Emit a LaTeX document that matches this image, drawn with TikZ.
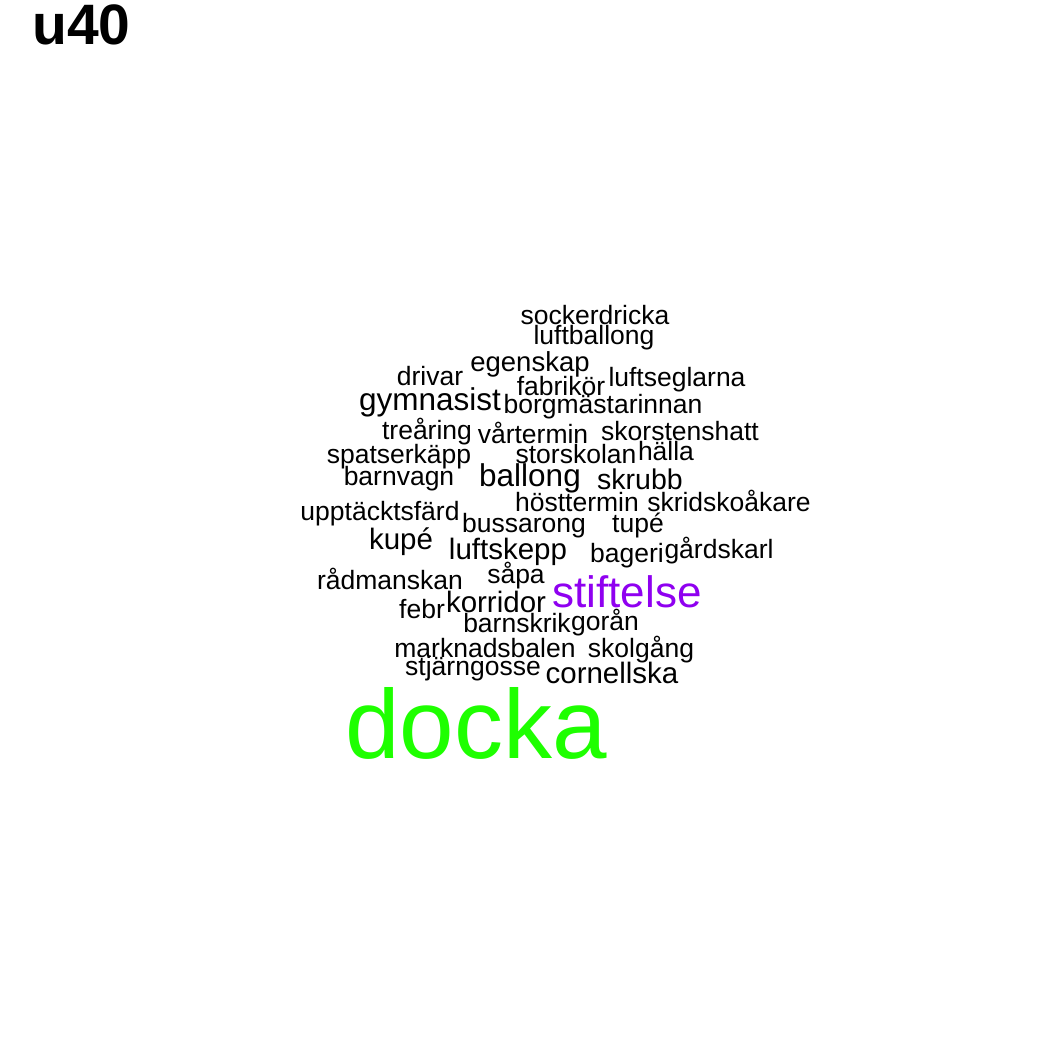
\documentclass[tikz,border=0pt]{standalone}
\usepackage{fontspec}
\setmainfont{Liberation Sans}
\usepackage{xcolor}
\definecolor{cloudgreen}{RGB}{30,255,0}
\definecolor{cloudpurple}{RGB}{143,0,240}

\begin{document}
\begin{tikzpicture}[x=1pt, y=-1pt,
    word/.style = {anchor=base, inner sep=0pt, font=\fontsize{#1}{#1}\selectfont},
    word/.default = 26.5]
    \useasboundingbox (0,0) rectangle (1050,1050);

    \node[anchor=base west, inner sep=0pt, font=\fontsize{57}{57}\selectfont\bfseries] (title) at (32,44) {u40};

    \node[word] (sockerdricka) at (595,324) {sockerdricka};
    \node[word] (luftballong) at (594,344) {luftballong};
    \node[word=27.5] (egenskap) at (530,371) {egenskap};
    \node[word] (drivar) at (430,385) {drivar};
    \node[word] (fabrikor) at (561,395) {fabrikör};
    \node[word] (luftseglarna) at (677,386) {luftseglarna};
    \node[word=31.5] (gymnasist) at (430,410) {gymnasist};
    \node[word] (borgmastarinnan) at (603,413) {borgmästarinnan};
    \node[word] (trearing) at (427,439) {treåring};
    \node[word] (vartermin) at (533,443) {vårtermin};
    \node[word] (skorstenshatt) at (680,440) {skorstenshatt};
    \node[word] (spatserkapp) at (399,463) {spatserkäpp};
    \node[word] (storskolan) at (576,463) {storskolan};
    \node[word] (halla) at (666,460) {hälla};
    \node[word] (barnvagn) at (399,485) {barnvagn};
    \node[word=31.5] (ballong) at (530,486) {ballong};
    \node[word=28.5] (skrubb) at (640,489) {skrubb};
    \node[word] (hosttermin) at (577,511) {hösttermin};
    \node[word] (skridskoakare) at (729,511) {skridskoåkare};
    \node[word] (upptacktsfard) at (380,520) {upptäcktsfärd};
    \node[word] (bussarong) at (524,532) {bussarong};
    \node[word] (tupe) at (638,532) {tupé};
    \node[word=29.5] (kupe) at (401,549) {kupé};
    \node[word=29.5] (luftskepp) at (508,559) {luftskepp};
    \node[word] (bageri) at (627,562) {bageri};
    \node[word] (gardskarl) at (719,558) {gårdskarl};
    \node[word] (radmanskan) at (390,589) {rådmanskan};
    \node[word] (sapa) at (516,583) {såpa};
    \node[word=44, text=cloudpurple] (stiftelse) at (627,607) {stiftelse};
    \node[word] (febr) at (422,618) {febr};
    \node[word=29.5] (korridor) at (496,612) {korridor};
    \node[word] (barnskrik) at (517,632) {barnskrik};
    \node[word] (goran) at (605,630) {gorån};
    \node[word] (marknadsbalen) at (485,657) {marknadsbalen};
    \node[word] (skolgang) at (641,657) {skolgång};
    \node[word] (stjarngosse) at (473,675) {stjärngosse};
    \node[word=29.5] (cornellska) at (612,683) {cornellska};
    \node[word=98, text=cloudgreen] (docka) at (476,758) {docka};

\end{tikzpicture}
\end{document}
